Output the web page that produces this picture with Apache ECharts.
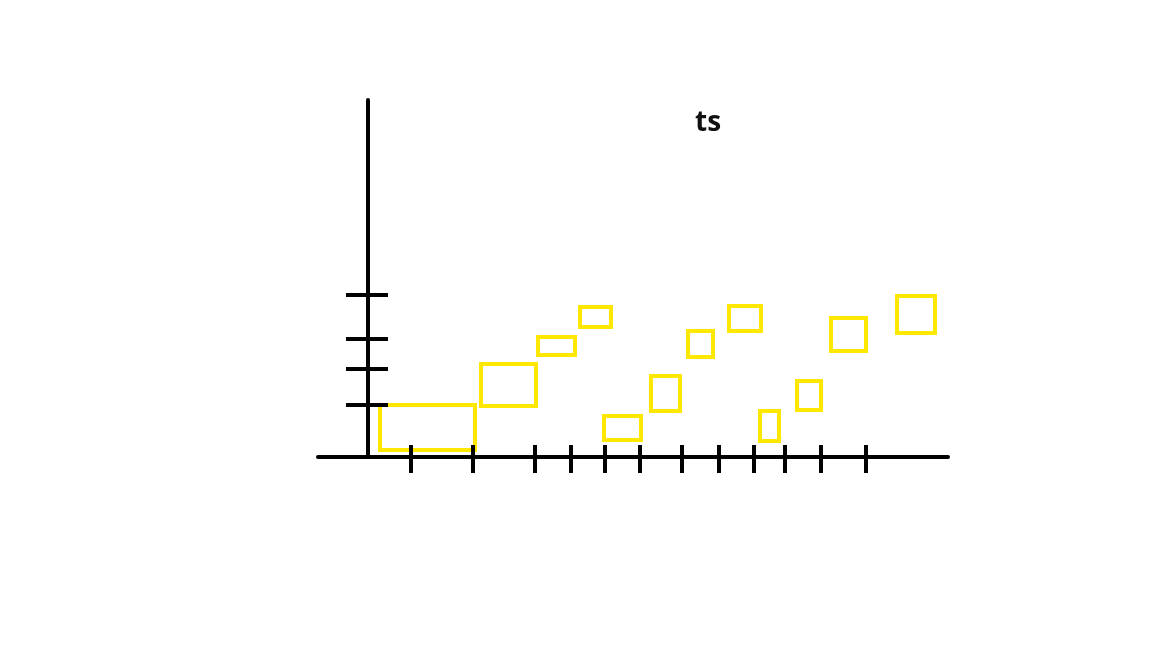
<!DOCTYPE html>
<html><head><meta charset="utf-8">
<script src="https://cdn.jsdelivr.net/npm/echarts@6/dist/echarts.min.js"></script>
<style>html,body{margin:0;background:#fff}#c{width:1152px;height:648px}</style>
</head><body><div id="c"></div>
<script>
const titleText = "ts";
// boxes: [xStart, xEnd, yStart, yEnd]
const boxX0 = [12,113,170,212,236,283,320,361,392,429,463,529];
const boxX1 = [107,168,207,243,273,312,345,393,411,453,498,567];
const boxY0 = [7,51,102,130,17,46,100,126,16,47,106,124];
const boxY1 = [52,93,120,150,41,81,126,151,46,76,139,161];
const xTicks = [43,105,167,203,237,272,314,351,386,417,453,498];
const yTicks = [162,118,88,52];

const boxes = boxX0.map((v,i)=>[v,boxX1[i],boxY0[i],boxY1[i]]);
const chart = echarts.init(document.getElementById('c'));
chart.setOption({
  backgroundColor:'#fff',
  title:{text:titleText,left:690,top:104,textStyle:{fontSize:28,fontWeight:'bold',color:'#111',fontFamily:'Open Sans'}},
  grid:{left:318,top:100,width:630,height:357},
  xAxis:{type:'value',min:-50,max:580,axisLine:{onZero:true,lineStyle:{color:'#000',width:4}},axisTick:{show:false},axisLabel:{show:false},splitLine:{show:false}},
  yAxis:{type:'value',min:0,max:357,axisLine:{onZero:true,lineStyle:{color:'#000',width:4}},axisTick:{show:false},axisLabel:{show:false},splitLine:{show:false}},
  series:[
    {type:'custom',data:boxes,renderItem:(p,api)=>{
      const a=api.coord([api.value(0),api.value(3)]),b=api.coord([api.value(1),api.value(2)]);
      return {type:'rect',shape:{x:a[0],y:a[1],width:b[0]-a[0],height:b[1]-a[1]},style:{fill:'none',stroke:'#ffe800',lineWidth:4}};
    }},
    {type:'custom',data:xTicks.map(v=>[v]),renderItem:(p,api)=>{
      const a=api.coord([api.value(0),0]);
      return {type:'line',shape:{x1:a[0],y1:a[1]-12,x2:a[0],y2:a[1]+16},style:{stroke:'#000',lineWidth:4}};
    }},
    {type:'custom',data:yTicks.map(v=>[0,v]),renderItem:(p,api)=>{
      const a=api.coord([0,api.value(1)]);
      return {type:'line',shape:{x1:a[0]-22,y1:a[1],x2:a[0]+20,y2:a[1]},style:{stroke:'#000',lineWidth:4}};
    }}
  ]
});
</script></body></html>
